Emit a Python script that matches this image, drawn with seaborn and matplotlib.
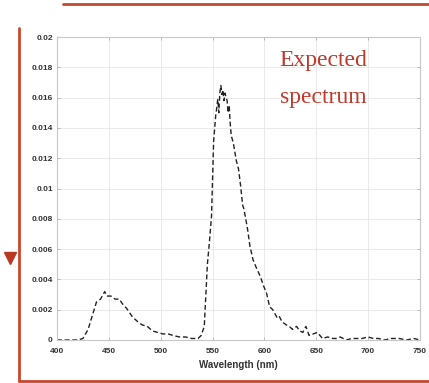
import matplotlib
matplotlib.use("Agg")
import matplotlib.pyplot as plt
from matplotlib.lines import Line2D
import numpy as np
import pandas as pd
import seaborn as sns

# Measured spectrum: wavelength (nm) and relative intensity
wavelength = [400, 410, 420, 425, 430, 434, 438, 442, 446, 448, 452, 456, 460, 464,
              467, 470, 473, 478, 482, 487, 492, 497, 502, 507, 512, 518, 524,
              530, 536, 539, 542, 545, 547, 549, 551, 553, 554, 555, 556, 557,
              558, 559, 560, 561, 562, 563, 564, 565, 566, 567, 568, 570, 572,
              573, 575, 577, 579, 580, 582, 584, 586, 589, 592, 596, 599, 602,
              605, 608, 612, 614, 617, 621, 624, 627, 631, 634, 637, 640, 643,
              647, 651, 656, 661, 666, 670, 673, 679, 684, 689, 694, 700, 705,
              710, 716, 722, 730, 737, 744, 750]
intensity = [0.0, 0.0, 0.0, 0.0001, 0.0007, 0.0016, 0.0025, 0.0027, 0.0032, 0.0029,
             0.0029, 0.0027, 0.0027, 0.0023, 0.0021, 0.0018, 0.0015, 0.0012, 0.0010,
             0.0009, 0.0006, 0.0005, 0.0004, 0.0004, 0.0003, 0.0002, 0.0002,
             0.0001, 0.0001, 0.0003, 0.0009, 0.0050, 0.0065, 0.0082, 0.0131,
             0.0148, 0.0153, 0.0159, 0.0150, 0.0163, 0.0168, 0.0162, 0.0165,
             0.0158, 0.0163, 0.0160, 0.0158, 0.0150, 0.0155, 0.0143, 0.0135,
             0.0130, 0.0122, 0.0118, 0.0113, 0.0102, 0.0089, 0.0087, 0.0080,
             0.0072, 0.0062, 0.0053, 0.0048, 0.0042, 0.0036, 0.0031, 0.0022,
             0.0020, 0.0015, 0.0016, 0.0012, 0.0010, 0.0009, 0.0007, 0.0009,
             0.0006, 0.0005, 0.0009, 0.0003, 0.0004, 0.0005, 0.0001, 0.0002,
             0.0001, 0.0001, 0.0002, 0.0, 0.0001, 0.0001, 0.0001, 0.0002, 0.0001,
             0.0001, 0.0, 0.0001, 0.0001, 0.0, 0.0001, 0.0]

x_ticks = [400, 450, 500, 550, 600, 650, 700, 750]
y_ticks = [0, 0.002, 0.004, 0.006, 0.008, 0.01, 0.012, 0.014, 0.016, 0.018, 0.02]
y_tick_labels = ["0", "0.002", "0.004", "0.006", "0.008", "0.01", "0.012",
                 "0.014", "0.016", "0.018", "0.02"]

df = pd.DataFrame({"Wavelength (nm)": wavelength, "Intensity": intensity})

sns.set_theme(style="whitegrid")
plt.rcParams["font.family"] = ["Liberation Sans", "DejaVu Sans"]

fig = plt.figure(figsize=(4.29, 3.83), dpi=100)
fig.patch.set_facecolor("white")
ax = fig.add_axes([57 / 429, 43 / 383, 363 / 429, 303 / 383])

sns.lineplot(data=df, x="Wavelength (nm)", y="Intensity", ax=ax,
             color="#222222", linewidth=1.0, linestyle=(0, (3.5, 2.0)))

ax.set_xlim(400, 750)
ax.set_ylim(0, 0.02)
ax.set_xticks(x_ticks)
ax.set_xticklabels([str(t) for t in x_ticks])
ax.set_yticks(y_ticks)
ax.set_yticklabels(y_tick_labels)
ax.set_ylabel("")
ax.set_xlabel("Wavelength (nm)", fontsize=7, fontweight="bold", color="#333333", labelpad=3)

ax.set_facecolor("white")
ax.grid(True, color="#e6e6e6", linewidth=0.6)
for s in ax.spines.values():
    s.set_visible(True)
    s.set_color("#c8c8c8")
    s.set_linewidth(0.8)
ax.tick_params(axis="both", which="both", direction="in", length=2.5, width=0.6,
               color="#b0b0b0", labelsize=6, labelcolor="#333333", pad=3,
               right=True, top=True, left=True, bottom=True)
ax.tick_params(axis="x", pad=6)
for lbl in ax.get_xticklabels() + ax.get_yticklabels():
    lbl.set_fontweight("bold")

serif = ["Liberation Serif", "DejaVu Serif"]
ax.text(0.733, 0.924, "Expected", transform=ax.transAxes, ha="center", va="center",
        fontsize=17, color="#c0392b", family=serif)
ax.text(0.733, 0.80, "spectrum", transform=ax.transAxes, ha="center", va="center",
        fontsize=17, color="#c0392b", family=serif)

# Red frame around the slide panel with a marker on the left edge
red = "#c8472d"
W, H = 429, 383
fig.add_artist(Line2D([63 / W, 1.0], [1 - 4 / H, 1 - 4 / H], transform=fig.transFigure,
                      color=red, linewidth=2.0))
fig.add_artist(Line2D([19 / W, 19 / W], [1 - 28 / H, 1 - 381 / H], transform=fig.transFigure,
                      color=red, linewidth=2.0))
fig.add_artist(Line2D([19 / W, 1.0], [1 - 381 / H, 1 - 381 / H], transform=fig.transFigure,
                      color=red, linewidth=2.0))
fig.add_artist(Line2D([10 / W], [1 - 258 / H], transform=fig.transFigure, marker="v",
                      markersize=9, color="#b83a22", linestyle="none"))

fig.savefig("out.png", dpi=100, facecolor="white")
